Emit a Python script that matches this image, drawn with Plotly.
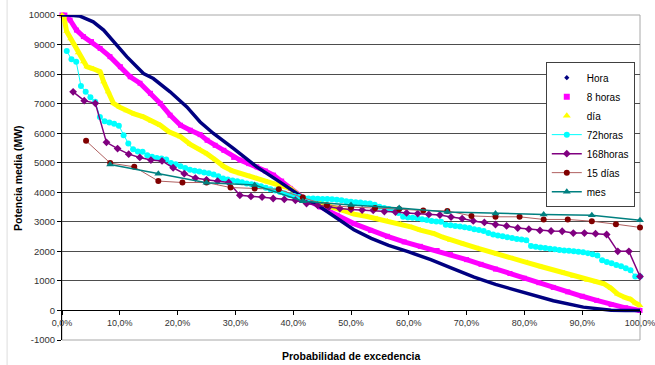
import numpy as np
import plotly.graph_objects as go

# ---- Data: duration curves of mean power (MW) vs. exceedance probability (%) ----
hora_x = [0, 1, 3, 5.4, 7.2, 8.9, 11.2, 14.1, 15.8, 18.7, 21.6, 23.9, 26.2, 29.7, 33.7,
          37.2, 41.5, 44.7, 47.5, 50.5, 53.5, 56.5, 60, 63.8, 67.2, 71.3, 75, 80.2, 85,
          90.2, 93, 95, 97.5, 100]
hora_y = [10000, 10000, 9970, 9770, 9490, 9100, 8590, 8020, 7850, 7400, 6890, 6380, 5990,
          5480, 4860, 4410, 3850, 3500, 3120, 2730, 2440, 2200, 1980, 1720, 1450, 1130, 880,
          590, 330, 113, 40, 10, 0, 0]

h8_x = [0, 0.5, 1.4, 2.5, 3.7, 5.1, 6.6, 8.3, 10.1, 11.8, 13.5, 15.3, 17, 18.7, 20.5, 22.2,
        23.9, 25.1, 26.5, 28, 29.7, 30.8, 32.3, 33.7, 35.2, 36.6, 38, 39.5, 41.5, 43, 44.7,
        47.6, 50.5, 53.4, 56.3, 59.2, 62, 64.9, 67.2, 70, 72.5, 75, 77.5, 80, 82.5, 85,
        87.5, 90, 92.5, 95, 97.5, 100]
h8_y = [10000, 10000, 9830, 9490, 9270, 9100, 8870, 8590, 8250, 7910, 7690, 7350, 7010,
        6610, 6270, 6100, 5950, 5760, 5590, 5420, 5180, 5090, 4970, 4860, 4720, 4580, 4380,
        4130, 3840, 3680, 3500, 3220, 2940, 2710, 2510, 2320, 2170, 2030, 1890, 1720, 1560,
        1400, 1250, 1090, 940, 780, 630, 480, 340, 200, 90, 0]

dia_x = [0, 0.3, 0.8, 1.5, 2.0, 2.8, 3.7, 4.3, 5.4, 6.6, 7.2, 8.0, 8.9, 10, 11.2, 12.5,
         14.1, 15.5, 17, 18.5, 20.5, 22.2, 23.9, 25.1, 26.5, 28, 29.5, 30.8, 32.5, 33.7,
         35.5, 36.6, 38, 39.5, 41.2, 43, 44.7, 47, 49, 50.5, 52.8, 54.5, 56.3, 58.6, 60.5,
         62, 64.4, 66, 67.2, 69.5, 72, 75.3, 78, 80.5, 83, 86.9, 88.5, 90.9, 92.5, 93.8,
         95, 96.1, 97.5, 98.4, 99.2, 100]
dia_y = [10000, 9950, 9450, 9200, 9040, 8720, 8420, 8250, 8180, 8080, 7740, 7400, 7010,
         6880, 6760, 6650, 6550, 6400, 6270, 6050, 5880, 5620, 5450, 5300, 5100, 4870, 4720,
         4630, 4540, 4470, 4360, 4300, 4220, 4130, 3860, 3730, 3620, 3480, 3360, 3260, 3180,
         3110, 3030, 2930, 2820, 2720, 2600, 2470, 2380, 2250, 2100, 1900, 1760, 1620, 1480,
         1270, 1160, 1020, 960, 900, 750, 560, 430, 380, 250, 170]

h72_y = [8780, 8500, 8420, 7600, 7400, 7220, 7060, 6550, 6400, 6360, 6320, 6250, 5930, 5650,
         5460, 5380, 5370, 5250, 5200, 5160, 5140, 5110, 4990, 4950, 4880, 4820, 4760, 4730,
         4700, 4670, 4640, 4600, 4540, 4470, 4430, 4400, 4370, 4340, 4300, 4270, 4240, 4200,
         4150, 4100, 4060, 4010, 3960, 3910, 3870, 3840, 3810, 3790, 3790, 3780, 3770, 3770,
         3760, 3750, 3730, 3700, 3680, 3660, 3650, 3630, 3620, 3580, 3510, 3470, 3430, 3390,
         3300, 3170, 3150, 3140, 3120, 3090, 3060, 3030, 3010, 3000, 2900, 2880, 2860, 2840,
         2820, 2790, 2750, 2720, 2690, 2620, 2570, 2540, 2510, 2480, 2450, 2420, 2400, 2380,
         2180, 2160, 2130, 2110, 2090, 2070, 2050, 2030, 2020, 2000, 1990, 1970, 1940, 1900,
         1860, 1700, 1640, 1600, 1540, 1500, 1430, 1360, 1150, 1150]

h168_y = [7400, 7100, 7010, 5690, 5480, 5290, 5180, 5090, 5060, 4830, 4630, 4480, 4420, 4380,
          4330, 3900, 3860, 3840, 3790, 3760, 3730, 3620, 3560, 3500, 3450, 3420, 3400, 3390,
          3350, 3330, 3300, 3280, 3250, 3230, 3160, 3110, 3030, 2980, 2910, 2860, 2790, 2750,
          2710, 2690, 2680, 2620, 2620, 2600, 2570, 2000, 2000, 1150]

d15_y = [5740, 4990, 4860, 4380, 4330, 4330, 4160, 4130, 4100, 3820, 3560, 3500, 3470, 3430,
         3380, 3370, 3200, 3170, 3170, 3080, 3080, 3020, 2920, 2810]

mes_y = [4940, 4630, 4320, 4250, 3700, 3570, 3470, 3330, 3280, 3250, 3220, 3050]

x_ticks = [0, 10, 20, 30, 40, 50, 60, 70, 80, 90, 100]
x_ticklabels = ["0,0%", "10,0%", "20,0%", "30,0%", "40,0%", "50,0%", "60,0%", "70,0%",
                "80,0%", "90,0%", "100,0%"]
y_ticks = [-1000, 0, 1000, 2000, 3000, 4000, 5000, 6000, 7000, 8000, 9000, 10000]
y_ticklabels = ["-1000", "0", "1000", "2000", "3000", "4000", "5000", "6000", "7000",
                "8000", "9000", "10000"]


def rank_positions(values):
    """Exceedance probability (%) of each ranked value in a series."""
    n = len(values)
    return (np.arange(1, n + 1) / n * 100).tolist()


FONT = "Liberation Sans, Arial, sans-serif"
fig = go.Figure()

# Dense series drawn as thick bands
fig.add_trace(go.Scatter(x=h8_x, y=h8_y, mode="lines+markers", showlegend=False,
                         line=dict(color="#FF00FF", width=5),
                         marker=dict(symbol="square", size=5, color="#FF00FF"),
                         cliponaxis=False))
fig.add_trace(go.Scatter(x=dia_x, y=dia_y, mode="lines+markers", showlegend=False,
                         line=dict(color="#FFFF00", width=5),
                         marker=dict(symbol="triangle-up", size=6, color="#FFFF00"),
                         cliponaxis=False))
fig.add_trace(go.Scatter(x=hora_x, y=hora_y, mode="lines", showlegend=False,
                         line=dict(color="#000080", width=3.5)))

fig.add_trace(go.Scatter(x=rank_positions(h72_y), y=h72_y, mode="lines+markers",
                         name="72horas", legendrank=4,
                         line=dict(color="#00FFFF", width=1),
                         marker=dict(symbol="circle", size=6, color="#00FFFF"),
                         cliponaxis=False))
fig.add_trace(go.Scatter(x=rank_positions(h168_y), y=h168_y, mode="lines+markers",
                         name="168horas", legendrank=5,
                         line=dict(color="#800080", width=1.5),
                         marker=dict(symbol="diamond", size=6, color="#800080"),
                         cliponaxis=False))
fig.add_trace(go.Scatter(x=rank_positions(d15_y), y=d15_y, mode="lines+markers",
                         name="15 días", legendrank=6,
                         line=dict(color="#B06060", width=1),
                         marker=dict(symbol="circle", size=6, color="#800000"),
                         cliponaxis=False))
fig.add_trace(go.Scatter(x=rank_positions(mes_y), y=mes_y, mode="lines+markers",
                         name="mes", legendrank=7,
                         line=dict(color="#008080", width=1.5),
                         marker=dict(symbol="triangle-up", size=7, color="#008080"),
                         cliponaxis=False))

# Marker-only legend entries for the dense series
fig.add_trace(go.Scatter(x=[None], y=[None], mode="markers", name="Hora", legendrank=1,
                         marker=dict(symbol="diamond", size=4, color="#000080")))
fig.add_trace(go.Scatter(x=[None], y=[None], mode="markers", name="8 horas", legendrank=2,
                         marker=dict(symbol="square", size=6, color="#FF00FF")))
fig.add_trace(go.Scatter(x=[None], y=[None], mode="markers", name="día", legendrank=3,
                         marker=dict(symbol="triangle-up", size=7, color="#FFFF00")))

zero_pos = (0 - y_ticks[0]) / (y_ticks[-1] - y_ticks[0])

fig.update_layout(
    width=655, height=365,
    margin=dict(l=62, r=15, t=15, b=25),
    paper_bgcolor="white", plot_bgcolor="white",
    font=dict(family=FONT, size=10, color="#222222"),
    xaxis=dict(range=[0, 100], tickvals=x_ticks, ticktext=x_ticklabels,
               showgrid=False, zeroline=False, showline=True, linecolor="#000000",
               linewidth=1, ticks="outside", ticklen=4, tickcolor="#000000",
               anchor="free", position=zero_pos, ticklabeloverflow="allow",
               automargin=False,
               tickfont=dict(family=FONT, size=9, color="#333333")),
    yaxis=dict(range=[y_ticks[0], y_ticks[-1]], tickvals=y_ticks, ticktext=y_ticklabels,
               showgrid=True, gridcolor="#4d4d4d", gridwidth=1, zeroline=False,
               showline=True, linecolor="#000000", linewidth=1, ticks="outside",
               ticklen=4, tickcolor="#000000", automargin=False,
               tickfont=dict(family=FONT, size=9.5, color="#333333")),
    legend=dict(x=0.837, y=0.855, xanchor="left", yanchor="top",
                bgcolor="white", bordercolor="#404040", borderwidth=1,
                font=dict(family=FONT, size=10, color="#000000"),
                itemwidth=30, tracegroupgap=0),
    shapes=[
        dict(type="rect", xref="paper", yref="paper", x0=0, y0=0, x1=1, y1=1,
             line=dict(color="#a8a8a8", width=1), layer="below"),
        dict(type="line", xref="paper", yref="paper", x0=-0.095, x1=-0.095, y0=-0.1, y1=1.05,
             line=dict(color="#dddddd", width=1)),
    ],
    annotations=[
        dict(text="<b>Probabilidad de excedencia</b>", xref="paper", yref="paper",
             x=0.5, y=-0.05, xanchor="center", yanchor="middle", showarrow=False,
             font=dict(family=FONT, size=10.5, color="#000000")),
        dict(text="<b>Potencia media (MW)</b>", xref="paper", yref="paper",
             x=-0.077, y=0.5, xanchor="center", yanchor="middle", showarrow=False,
             textangle=-90, font=dict(family=FONT, size=10.5, color="#000000")),
    ],
)

fig.write_html("out.html")
